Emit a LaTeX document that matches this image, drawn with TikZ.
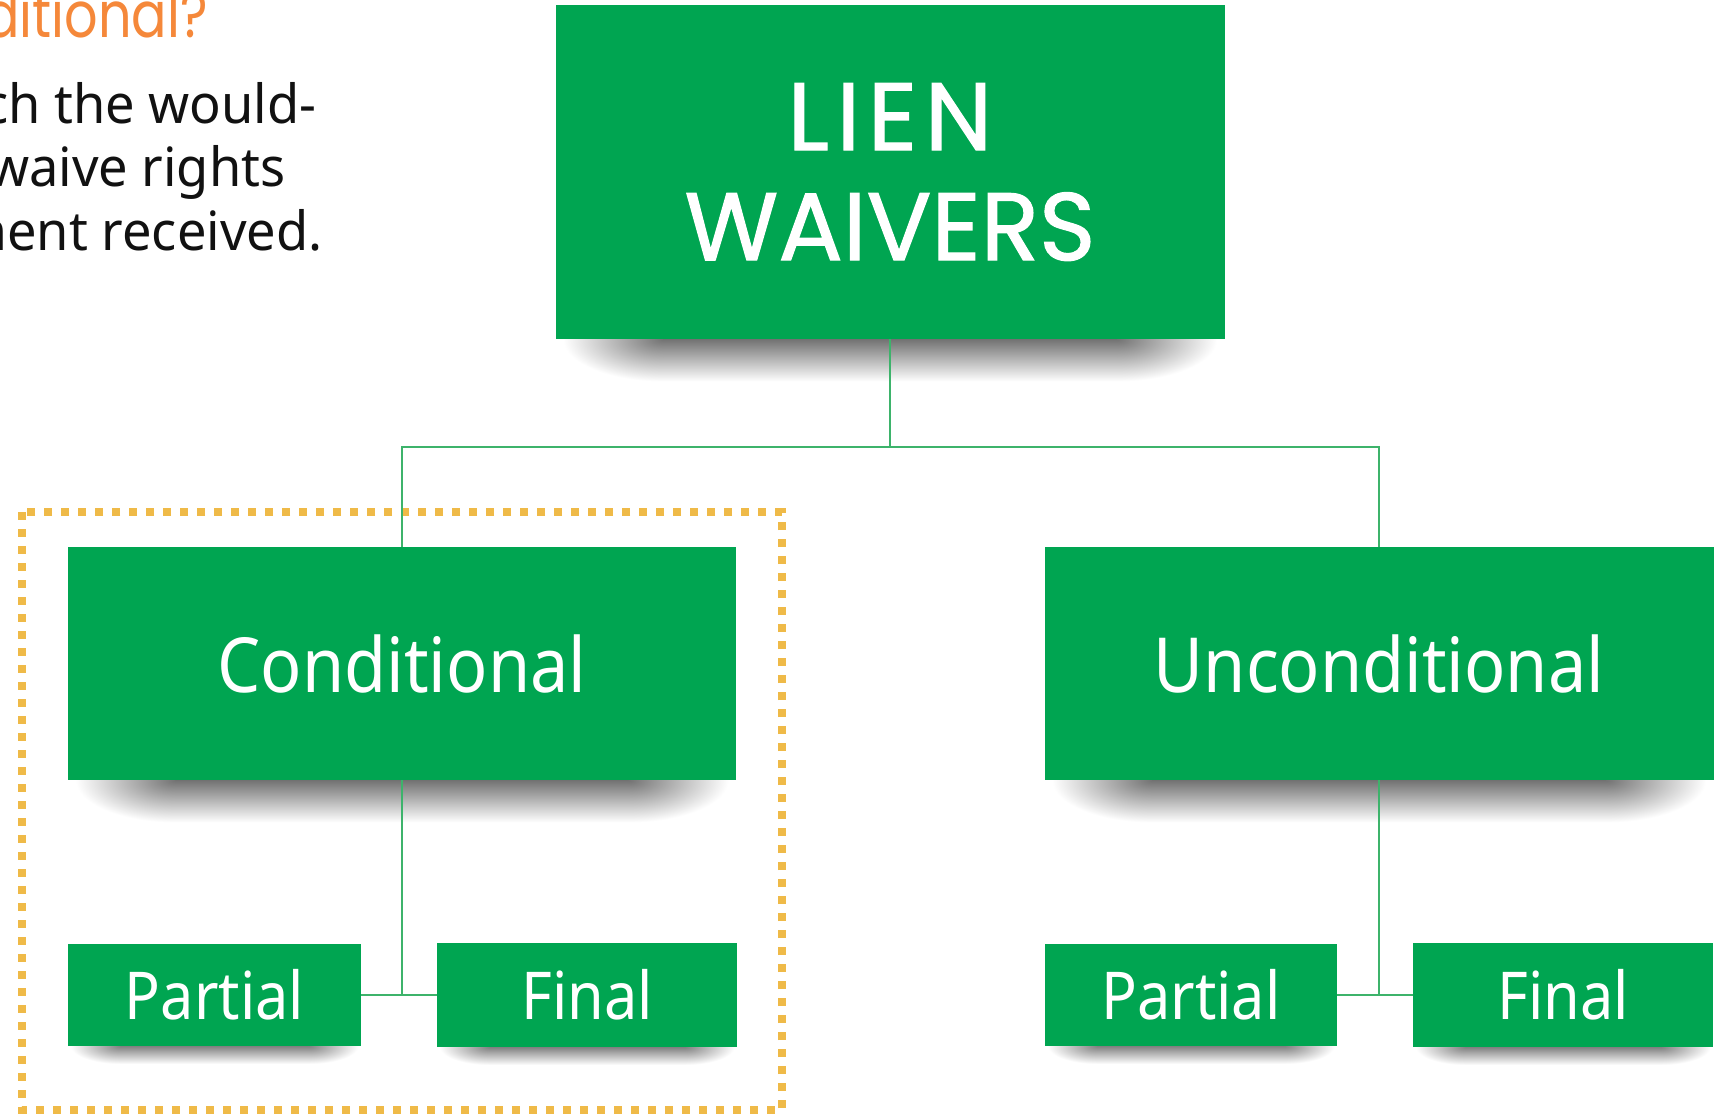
\documentclass[tikz,border=0pt]{standalone}
\usepackage{fontspec}
\setmainfont{Noto Sans}
\newfontfamily\labelfont{Noto Sans}[FakeStretch=0.9]
\newfontfamily\bodyfont{Noto Sans}[FakeStretch=0.97]
\newfontfamily\titlefont{Poppins}[FakeBold=1.2]
\newfontfamily\titlefontwide{Poppins}[FakeBold=1.2, LetterSpace=8]
\newfontfamily\headfont{Poppins}[FakeStretch=0.82]
\definecolor{boxgreen}{HTML}{00A551}
\definecolor{linegreen}{HTML}{3DB36B}
\definecolor{dotgold}{HTML}{EFBA48}
\definecolor{headorange}{HTML}{F5883A}
\definecolor{bodyblack}{HTML}{111111}
\pgfdeclarelayer{paper}
\pgfdeclarelayer{shadowlayer}
\pgfsetlayers{paper,shadowlayer,main}
% soft shadow under a node:
% #1 node, #2 depth (px), #3 end fade width (px), #4 inset (px), #5 darkness
\newcommand\softshadow[5]{%
  \begin{pgfonlayer}{shadowlayer}
    % middle part: vertical fade
    \shade[top color=black!#5, bottom color=white]
      ([xshift=(#4+#3)*0.5pt-0.3pt]#1.south west) rectangle ([xshift=-(#4+#3)*0.5pt+0.3pt, yshift=-#2*0.5pt]#1.south east);
    % left end: elliptical fade
    \begin{scope}
      \clip ([xshift=#4*0.5pt]#1.south west) rectangle ([xshift=(#4+#3)*0.5pt, yshift=-#2*0.5pt]#1.south west);
      \shade[inner color=black!#5, outer color=white]
        ([xshift=#4*0.5pt, yshift=#2*0.5pt]#1.south west) rectangle ([xshift=(#4+2*#3)*0.5pt, yshift=-#2*0.5pt]#1.south west);
    \end{scope}
    % right end: elliptical fade
    \begin{scope}
      \clip ([xshift=-#4*0.5pt]#1.south east) rectangle ([xshift=-(#4+#3)*0.5pt, yshift=-#2*0.5pt]#1.south east);
      \shade[inner color=black!#5, outer color=white]
        ([xshift=-#4*0.5pt, yshift=#2*0.5pt]#1.south east) rectangle ([xshift=-(#4+2*#3)*0.5pt, yshift=-#2*0.5pt]#1.south east);
    \end{scope}
  \end{pgfonlayer}}
\begin{document}
\begin{tikzpicture}[x=0.5pt,y=-0.5pt,
  greenbox/.style={fill=boxgreen, draw=none, inner sep=0pt, text=white, align=center},
  conn/.style={draw=linegreen, line width=1pt},
  frame/.style={draw=dotgold, line width=4pt, dash pattern=on 4pt off 4.5pt},
  bodytext/.style={anchor=base east, text=bodyblack, inner sep=0pt, font=\bodyfont\fontsize{27}{32}\selectfont},
  midlabel/.style={font=\labelfont\fontsize{38}{44}\selectfont},
  smalllabel/.style={font=\labelfont\fontsize{33}{38}\selectfont}]
\useasboundingbox (0,0) rectangle (1716,1113);
\begin{pgfonlayer}{paper}
\fill[white] (0,0) rectangle (1716,1113);
\end{pgfonlayer}

% highlight frame
\draw[frame] (22,512) rectangle (782,1110);

% text at top left (cut off by the page edge)
\node[anchor=base east, inner sep=0pt, text=headorange, font=\headfont\fontsize{32}{38}\selectfont] (head) at (208,38) {ditional?};
\node[bodytext] (body1) at (317,123) {ch the would-};
\node[bodytext] (body2) at (286,186) {waive rights};
\node[bodytext] (body3) at (323,250) {ment received.};

% boxes
\node[greenbox, minimum width=334.5pt, minimum height=167pt,
      font=\titlefont\fontsize{48}{55}\selectfont] (lien) at (890,172) {{\titlefontwide LIEN\hspace{-4pt}}\\WAIVERS};
\node[greenbox, midlabel, minimum width=334pt, minimum height=116.5pt] (cond) at (402,663.5) {Conditional};
\node[greenbox, midlabel, minimum width=334.5pt, minimum height=116.5pt] (uncond) at (1379,663.5) {Unconditional};
\node[greenbox, smalllabel, minimum width=146.5pt, minimum height=51pt] (pl) at (214.5,994.5) {Partial};
\node[greenbox, smalllabel, minimum width=150pt, minimum height=52pt] (fl) at (587,994.5) {Final};
\node[greenbox, smalllabel, minimum width=146pt, minimum height=51pt] (pr) at (1191,994.5) {Partial};
\node[greenbox, smalllabel, minimum width=150pt, minimum height=52pt] (fr) at (1563,994.5) {Final};

% shadows
\softshadow{lien}{42}{100}{8}{55}
\softshadow{cond}{42}{100}{8}{55}
\softshadow{uncond}{42}{100}{8}{55}
\softshadow{pl}{18}{50}{3}{50}
\softshadow{fl}{18}{50}{3}{50}
\softshadow{pr}{18}{50}{3}{50}
\softshadow{fr}{18}{50}{3}{50}

% connectors
\coordinate (j) at (890,447);
\draw[conn] (lien.south) -- (j);
\draw[conn] (j) -| (cond.north);
\draw[conn] (j) -| (uncond.north);
\draw[conn] (cond.south) -- (cond.south |- pl.east);
\draw[conn] (pl.east) -- (fl.west);
\draw[conn] (uncond.south) -- (uncond.south |- pr.east);
\draw[conn] (pr.east) -- (fr.west);
\end{tikzpicture}
\end{document}
